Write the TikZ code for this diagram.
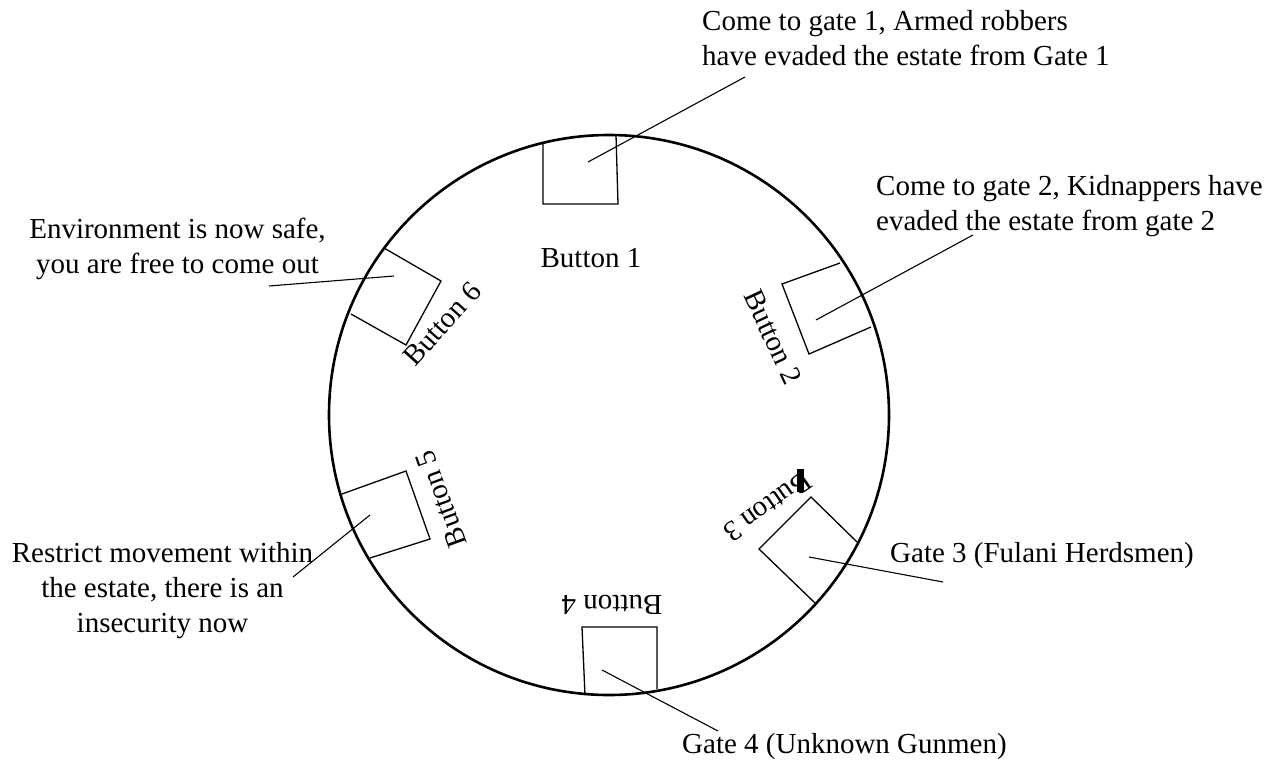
\documentclass[tikz,border=0pt]{standalone}
\usepackage{fontspec}
\setmainfont{Liberation Serif}
\begin{document}
\begin{tikzpicture}[x=1pt,y=-1pt,
  lbl/.style={inner sep=0pt,font=\fontsize{29}{35}\selectfont},
  boxline/.style={line width=1.3pt,line join=miter},
  leader/.style={line width=1.1pt},
  ring/.style={line width=2.6pt}]
\useasboundingbox (0,0) rectangle (1283,766);
% ring
\node[ring,draw,circle,minimum size=560pt,inner sep=0pt] (ring) at (609,415) {};
% boxes (open on the ring side)
\draw[boxline] (543,143) -- (543,204) -- (618,204) -- (616,135);
\draw[boxline] (840,263) -- (782,284) -- (809,354) -- (871,327);
\draw[boxline] (857,542) -- (811,497) -- (759,549) -- (815,603);
\draw[boxline] (585,695) -- (582,627) -- (657,627) -- (657,689);
\draw[boxline] (342,494) -- (406,471) -- (430,539) -- (370,558);
\draw[boxline] (384,248) -- (441,281) -- (406,345) -- (351,314);
% button labels
\node[lbl] (b1) at (591,258) {Button 1};
\node[lbl,rotate=-65] (b2) at (773,337) {Button 2};
\node[lbl,rotate=215] (b3) at (768,507) {Button 3};
\node[lbl,rotate=180] (b4) at (612,605) {Button 4};
\node[lbl,rotate=110] (b5) at (441,499) {Button 5};
\node[lbl,rotate=48] (b6) at (442,324) {Button 6};
\fill (797,469) rectangle (804,492);
% message labels
\node[lbl,anchor=north west,align=left] (t1) at (702,10.5) {Come to gate 1, Armed robbers\\have evaded the estate from Gate 1};
\node[lbl,anchor=north west,align=left] (t2) at (876,175.5) {Come to gate 2, Kidnappers have\\evaded the estate from gate 2};
\node[lbl,anchor=base west] (t3) at (890,562) {Gate 3 (Fulani Herdsmen)};
\node[lbl,anchor=base west] (t4) at (682,753) {Gate 4 (Unknown Gunmen)};
\node[lbl,anchor=north,align=center] (t5) at (162.5,542.5) {Restrict movement within\\the estate, there is an\\insecurity now};
\node[lbl,anchor=north,align=center] (t6) at (177.5,217.5) {Environment is now safe,\\you are free to come out};
% leader end points
\coordinate (p1) at (588,162); \coordinate (q1) at (745,77);
\coordinate (p2) at (816,320); \coordinate (q2) at (973,235);
\coordinate (p3) at (809,557); \coordinate (q3) at (943,582);
\coordinate (p4) at (602,670); \coordinate (q4) at (718,731);
\coordinate (p5) at (370,515); \coordinate (q5) at (293,577);
\coordinate (p6) at (394,276); \coordinate (q6) at (269,286);
\draw[leader] (p1) -- (q1);
\draw[leader] (p2) -- (q2);
\draw[leader] (p3) -- (q3);
\draw[leader] (p4) -- (q4);
\draw[leader] (p5) -- (q5);
\draw[leader] (p6) -- (q6);
\end{tikzpicture}
\end{document}
